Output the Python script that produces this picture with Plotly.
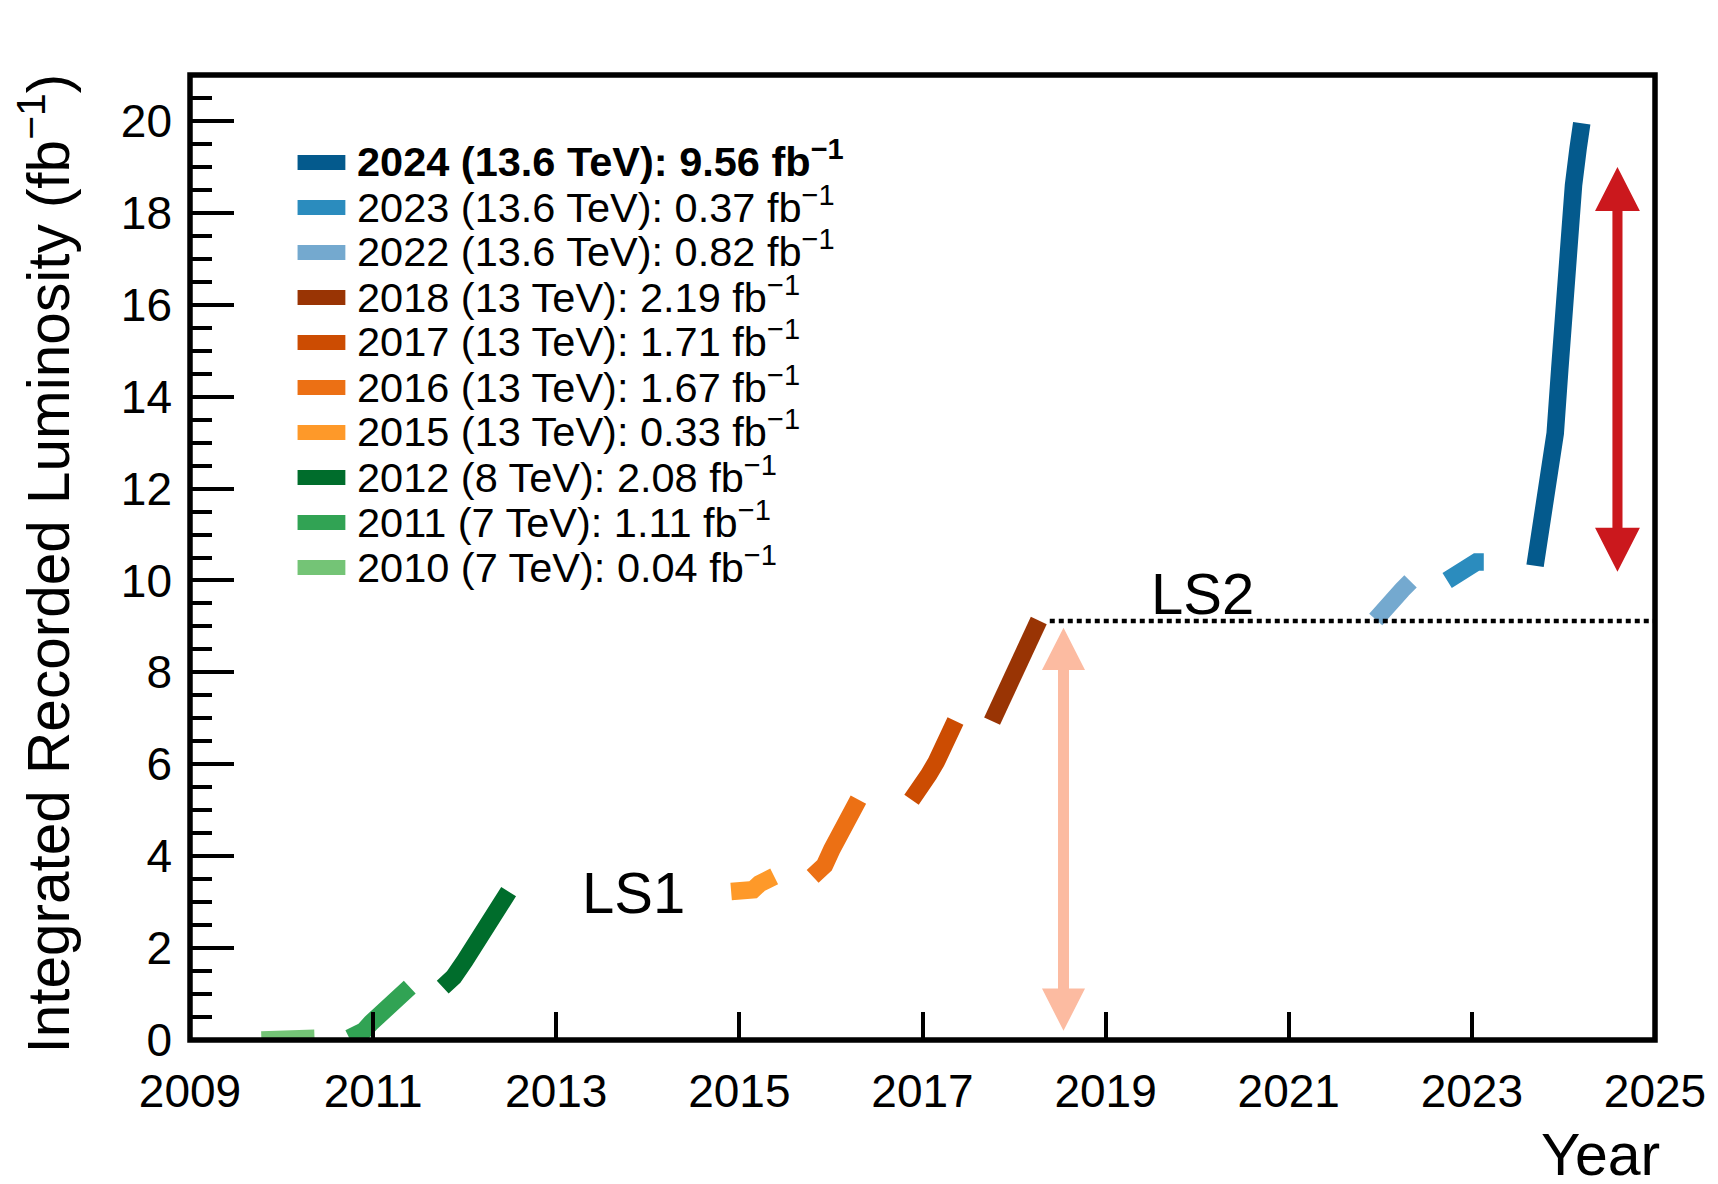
import plotly.graph_objects as go

# ---------------- data ----------------
x_2010 = [2009.78, 2010.0, 2010.2, 2010.36]
y_2010 = [0.0, 0.0, 0.01, 0.04]

x_2011 = [2010.74, 2010.82, 2010.90, 2010.98, 2011.06, 2011.14, 2011.22, 2011.30, 2011.40]
y_2011 = [0.04, 0.08, 0.20, 0.38, 0.52, 0.68, 0.80, 0.95, 1.15]

x_2012 = [2011.76, 2011.88, 2012.00, 2012.10, 2012.20, 2012.30, 2012.40, 2012.48]
y_2012 = [1.15, 1.37, 1.72, 2.05, 2.40, 2.72, 3.02, 3.23]

x_2015 = [2014.91, 2015.05, 2015.15, 2015.22, 2015.30, 2015.38]
y_2015 = [3.23, 3.24, 3.27, 3.40, 3.50, 3.56]

x_2016 = [2015.80, 2015.93, 2016.01, 2016.09, 2016.16, 2016.23, 2016.30]
y_2016 = [3.56, 3.80, 4.15, 4.46, 4.70, 4.92, 5.23]

x_2017 = [2016.88, 2016.98, 2017.07, 2017.15, 2017.22, 2017.29, 2017.36]
y_2017 = [5.23, 5.45, 5.78, 6.05, 6.42, 6.72, 6.94]

x_2018 = [2017.76, 2017.87, 2017.98, 2018.09, 2018.18, 2018.27]
y_2018 = [6.94, 7.45, 7.90, 8.38, 8.85, 9.13]

x_2022 = [2021.95, 2022.04, 2022.14, 2022.24, 2022.33]
y_2022 = [9.15, 9.40, 9.60, 9.80, 9.98]

x_2023 = [2022.73, 2022.82, 2022.90, 2022.97, 2023.05, 2023.13]
y_2023 = [10.00, 10.12, 10.22, 10.35, 10.40, 10.40]

x_2024 = [2023.69, 2023.76, 2023.83, 2023.91, 2023.96, 2024.01, 2024.06, 2024.11, 2024.16, 2024.20]
y_2024 = [10.32, 11.30, 12.40, 13.20, 14.60, 16.30, 17.50, 18.60, 19.40, 19.95]

legend_years = ["2024", "2023", "2022", "2018", "2017", "2016", "2015", "2012", "2011", "2010"]
legend_energy = ["13.6", "13.6", "13.6", "13", "13", "13", "13", "8", "7", "7"]
legend_lumi = ["9.56", "0.37", "0.82", "2.19", "1.71", "1.67", "0.33", "2.08", "1.11", "0.04"]

x_tick_vals = [2009, 2011, 2013, 2015, 2017, 2019, 2021, 2023, 2025]
y_tick_vals = [0, 2, 4, 6, 8, 10, 12, 14, 16, 18, 20]

ls2_level = 9.12
ls2_start = 2018.39

# ---------------- styles ----------------
colors = {
    "2024": "#045a8d", "2023": "#2b8cbe", "2022": "#74a9cf",
    "2018": "#993404", "2017": "#cc4c02", "2016": "#ec7014", "2015": "#fe9929",
    "2012": "#006d2c", "2011": "#31a354", "2010": "#74c476",
}
series = {
    "2010": (x_2010, y_2010), "2011": (x_2011, y_2011), "2012": (x_2012, y_2012),
    "2015": (x_2015, y_2015), "2016": (x_2016, y_2016), "2017": (x_2017, y_2017),
    "2018": (x_2018, y_2018), "2022": (x_2022, y_2022), "2023": (x_2023, y_2023),
    "2024": (x_2024, y_2024),
}

FONT = "Liberation Sans, Arial, Helvetica, sans-serif"
FIG_W, FIG_H = 1718, 1184
L, R, T, B = 190, 1661, 75, 1040
PW, PH = R - L, B - T


def px_x(px):
    return (px - L) / PW


def px_y(py):
    return (B - py) / PH


fig = go.Figure()
for yr, (xs, ys) in series.items():
    fig.add_trace(go.Scatter(x=xs, y=ys, mode="lines", line=dict(color=colors[yr], width=17.5),
                             showlegend=False, hoverinfo="skip"))

# LS2 dotted line
fig.add_trace(go.Scatter(x=[ls2_start, 2025], y=[ls2_level, ls2_level], mode="lines",
                         line=dict(color="black", width=4.5, dash="5px,4px"),
                         showlegend=False, hoverinfo="skip"))

shapes = []


def arrow_path(xc, y0, y1, head_len, head_hw, shaft_hw):
    return (f"M {xc} {y1} L {xc + head_hw} {y1 - head_len} L {xc + shaft_hw} {y1 - head_len} "
            f"L {xc + shaft_hw} {y0 + head_len} L {xc + head_hw} {y0 + head_len} L {xc} {y0} "
            f"L {xc - head_hw} {y0 + head_len} L {xc - shaft_hw} {y0 + head_len} "
            f"L {xc - shaft_hw} {y1 - head_len} L {xc - head_hw} {y1 - head_len} Z")


shapes.append(dict(type="path", xref="x", yref="y",
                   path=arrow_path(2018.54, 0.20, 8.97, 0.92, 0.235, 0.06),
                   fillcolor="#fcbba1", line=dict(width=0), layer="above"))
shapes.append(dict(type="path", xref="x", yref="y",
                   path=arrow_path(2024.59, 10.19, 19.0, 0.96, 0.245, 0.055),
                   fillcolor="#cb181d", line=dict(width=0), layer="above"))

# legend (manual)
annotations = []
for i, yr in enumerate(legend_years):
    cy = 162.5 + 45 * i
    shapes.append(dict(type="rect", xref="paper", yref="paper",
                       x0=px_x(298), x1=px_x(346), y0=px_y(cy + 7.5), y1=px_y(cy - 7.5),
                       fillcolor=colors[yr], line=dict(width=0), layer="above"))
    txt = f"{yr} ({legend_energy[i]} TeV): {legend_lumi[i]} fb<sup>\u22121</sup>"
    if i == 0:
        txt = f"<b>{txt}</b>"
    annotations.append(dict(xref="paper", yref="paper", x=px_x(357), y=px_y(cy - 3),
                            xanchor="left", yanchor="middle", text=txt, showarrow=False,
                            borderpad=0, font=dict(family=FONT, size=41.5, color="black")))

# frame
shapes.append(dict(type="rect", xref="paper", yref="paper", x0=0, x1=1, y0=0, y1=1,
                   line=dict(color="black", width=5.5), layer="above"))

annotations.append(dict(xref="x", yref="y", x=2013.27, y=3.22, text="LS1", showarrow=False,
                        xanchor="left", yanchor="middle", borderpad=0,
                        font=dict(family=FONT, size=58, color="black")))
annotations.append(dict(xref="x", yref="y", x=2019.49, y=9.72, text="LS2", showarrow=False,
                        xanchor="left", yanchor="middle", borderpad=0,
                        font=dict(family=FONT, size=58, color="black")))
annotations.append(dict(xref="paper", yref="paper", x=px_x(44), y=1, yshift=2,
                        text="Integrated Recorded Luminosity (fb<sup>\u22121</sup>)",
                        textangle=-90, showarrow=False, xanchor="center", yanchor="top",
                        borderpad=0, font=dict(family=FONT, size=58.5, color="black")))
annotations.append(dict(xref="paper", yref="paper", x=1, xshift=6, y=px_y(1155), text="Year",
                        showarrow=False, xanchor="right", yanchor="middle", borderpad=0,
                        font=dict(family=FONT, size=59, color="black")))

fig.update_layout(
    width=FIG_W, height=FIG_H,
    margin=dict(l=L, r=FIG_W - R, t=T, b=FIG_H - B, pad=0),
    paper_bgcolor="white", plot_bgcolor="white",
    showlegend=False, shapes=shapes, annotations=annotations,
    xaxis=dict(range=[2009, 2025], tickvals=x_tick_vals, ticktext=[str(v) for v in x_tick_vals],
               ticks="inside", ticklen=28, tickwidth=4, tickcolor="black",
               showgrid=False, zeroline=False, showline=False, ticklabelstandoff=20,
               tickfont=dict(family=FONT, size=46, color="black")),
    yaxis=dict(range=[0, 21], tickvals=y_tick_vals, ticks="inside", ticklen=44, tickwidth=4,
               tickcolor="black", showgrid=False, zeroline=False, showline=False,
               ticklabelstandoff=17,
               minor=dict(dtick=0.5, tick0=0, ticks="inside", ticklen=22, tickwidth=4,
                          tickcolor="black", showgrid=False),
               tickfont=dict(family=FONT, size=46, color="black")),
)

fig.write_html("out.html")
